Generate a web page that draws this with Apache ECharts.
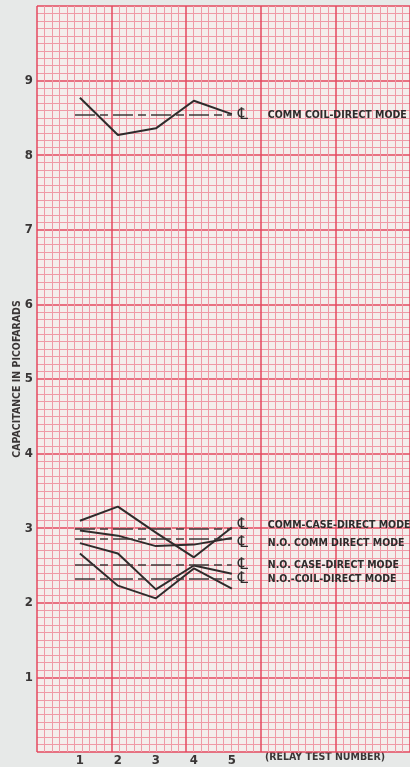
<!DOCTYPE html>
<html>
<head>
<meta charset="utf-8">
<script src="https://cdn.jsdelivr.net/npm/echarts@6/dist/echarts.min.js"></script>
<style>
  html, body { margin: 0; padding: 0; background: #e7e9e8; }
  #chart { width: 410px; height: 767px; }
</style>
</head>
<body>
<div id="chart"></div>
<script>
const tests = [1, 2, 3, 4, 5]
const yTicks = [1, 2, 3, 4, 5, 6, 7, 8, 9]

const modeNames = [
  'COMM COIL-DIRECT MODE',
  'COMM-CASE-DIRECT MODE',
  'N.O. COMM DIRECT MODE',
  'N.O. CASE-DIRECT MODE',
  'N.O.-COIL-DIRECT MODE'
]
const commCoil = [8.77, 8.27, 8.36, 8.73, 8.55]
const commCase = [3.10, 3.29, 2.94, 2.61, 3.01]
const noComm = [2.97, 2.90, 2.76, 2.78, 2.87]
const noCase = [2.80, 2.66, 2.18, 2.50, 2.39]
const noCoil = [2.66, 2.23, 2.06, 2.46, 2.19]
const allSeries = [commCoil, commCase, noComm, noCase, noCoil]

// small vertical nudges so the stacked labels don't collide
const labelShift = [0, -4, 4, 0, 0]

const ink = '#2e2b2b'
const textFont = "'DejaVu Sans Condensed', 'Liberation Sans Narrow', sans-serif"

const chart = echarts.init(document.getElementById('chart'), null, { renderer: 'canvas' })

const mean = (arr) => arr.reduce((a, b) => a + b, 0) / arr.length

const series = allSeries.map((vals, i) => {
  const m = mean(vals)
  const shift = labelShift[i]
  return {
    type: 'line',
    name: modeNames[i],
    xAxisIndex: 1,
    yAxisIndex: 0,
    data: tests.map((t, k) => [t, vals[k]]),
    showSymbol: false,
    symbol: 'none',
    lineStyle: { color: ink, width: 2 },
    silent: true,
    markLine: {
      silent: true,
      symbol: 'none',
      lineStyle: { color: '#3c3838', width: 1.5, type: [20, 5, 8, 5] },
      label: {
        show: true,
        position: 'end',
        distance: 6,
        padding: shift > 0 ? [shift * 2, 0, 0, 0] : [0, 0, -shift * 2, 0],
        formatter: '{s|\u2104}{t|' + modeNames[i] + '}',
        rich: {
          s: { fontSize: 16, color: ink, width: 30, fontFamily: 'DejaVu Sans' },
          t: { fontSize: 10.5, fontWeight: 'bold', color: ink, fontFamily: textFont }
        }
      },
      data: [[{ coord: [0.87, m] }, { coord: [5.0, m] }]]
    }
  }
})

const option = {
  backgroundColor: '#e7e9e8',
  animation: false,
  grid: {
    left: 37,
    right: 0,
    top: 6,
    bottom: 15,
    containLabel: false,
    outerBoundsMode: 'none',
    show: true,
    backgroundColor: '#f4eeec',
    borderWidth: 0
  },
  xAxis: [
    {
      type: 'value',
      min: 0,
      max: 50,
      interval: 10,
      position: 'top',
      axisLine: { show: false },
      axisTick: { show: false },
      axisLabel: { show: false },
      splitLine: { show: true, lineStyle: { color: '#e5485f', width: 1.5 } },
      minorTick: { show: false, splitNumber: 10 },
      minorSplitLine: { show: true, lineStyle: { color: '#ef9aa6', width: 1 } }
    },
    {
      type: 'value',
      min: -0.13,
      max: 9.69,
      position: 'bottom',
      axisLine: { show: false },
      axisTick: { show: false },
      splitLine: { show: false },
      axisLabel: {
        customValues: tests,
        margin: 2,
        color: '#3a3636',
        fontSize: 13,
        fontWeight: 'bold',
        fontFamily: textFont
      }
    }
  ],
  yAxis: [
    {
      type: 'value',
      min: 0,
      max: 10,
      interval: 1,
      name: 'CAPACITANCE IN PICOFARADS',
      nameLocation: 'middle',
      nameGap: 14,
      nameMoveOverlap: false,
      nameRotate: 90,
      nameTextStyle: { color: '#3a3636', fontSize: 10.5, fontWeight: 'bold', fontFamily: textFont },
      axisLine: { show: false },
      axisTick: { show: false },
      axisLabel: {
        customValues: yTicks,
        margin: 4,
        color: '#3a3636',
        fontSize: 13,
        fontWeight: 'bold',
        fontFamily: textFont
      },
      splitLine: { show: true, lineStyle: { color: '#e5485f', width: 1.5 } },
      minorTick: { show: false, splitNumber: 10 },
      minorSplitLine: { show: true, lineStyle: { color: '#ef9aa6', width: 1 } }
    }
  ],
  graphic: [
    {
      type: 'text',
      left: 265,
      top: 752,
      style: {
        text: '(RELAY TEST NUMBER)',
        fill: '#3a3636',
        font: "bold 10.5px 'DejaVu Sans Condensed', 'Liberation Sans Narrow', sans-serif"
      }
    }
  ],
  series: series
}

chart.setOption(option)
</script>
</body>
</html>
